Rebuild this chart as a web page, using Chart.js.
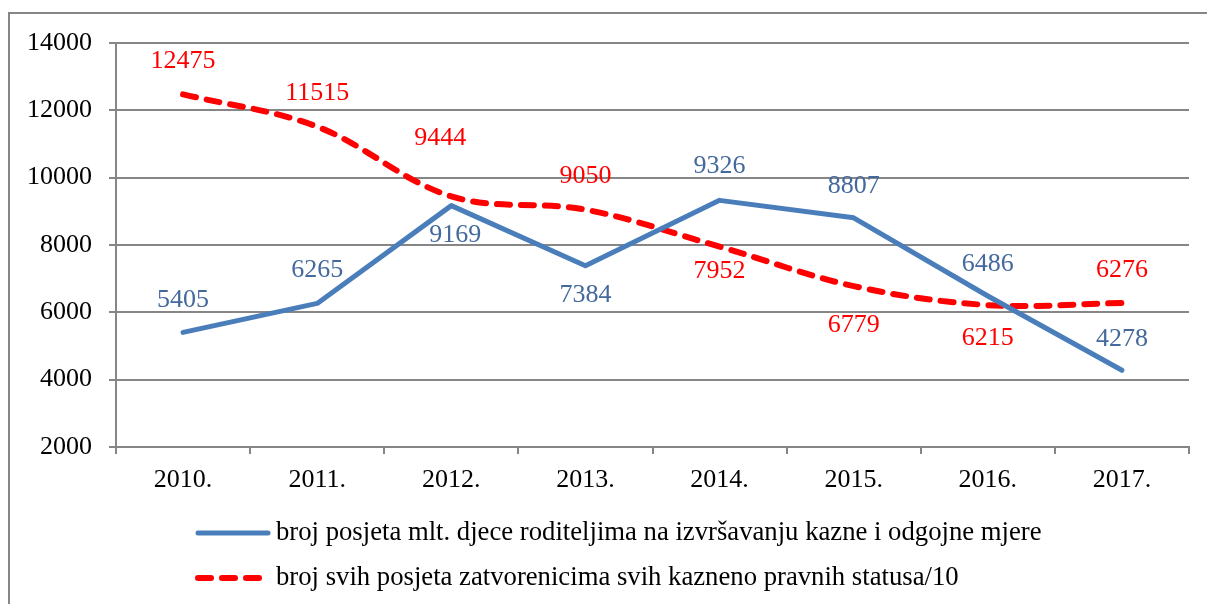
<!DOCTYPE html>
<html>
<head>
<meta charset="utf-8">
<script src="https://cdn.jsdelivr.net/npm/chart.js@4/dist/chart.umd.min.js"></script>
<style>
  html, body { margin: 0; padding: 0; background: #fff; }
  #wrap { width: 1207px; height: 604px; position: relative; }
</style>
</head>
<body>
<div id="wrap"><canvas id="c" width="1207" height="604"></canvas></div>
<script>
// ---- data ----
const categories = ['2010.', '2011.', '2012.', '2013.', '2014.', '2015.', '2016.', '2017.'];
const childVisits = [5405, 6265, 9169, 7384, 9326, 8807, 6486, 4278];
const allVisitsDiv10 = [12475, 11515, 9444, 9050, 7952, 6779, 6215, 6276];
const seriesLabels = [
  'broj posjeta mlt. djece roditeljima na izvršavanju kazne i odgojne mjere',
  'broj svih posjeta zatvorenicima svih kazneno pravnih statusa/10'
];
const yTicks = [2000, 4000, 6000, 8000, 10000, 12000, 14000];

// ---- styles ----
const FONT = '"Liberation Serif", "Times New Roman", serif';
const FS = 26;
const BLUE = '#4A7EBB';
const BLUE_TEXT = '#44699C';
const RED = '#FF0000';
// label offsets (px) relative to point: [dx, dy]
const labelOffsets = [
  [[0,-32],[0,-33],[4,30],[0,29],[0,-34],[0,-32],[0,-32],[0,-31]],
  [[0,-33],[0,-33],[-11,-58],[0,-33],[0,25],[0,39],[0,33],[0,-33]]
];

const framePlugin = {
  id: 'frame',
  beforeDraw(chart) {
    const ctx = chart.ctx;
    ctx.save();
    ctx.fillStyle = '#fff';
    ctx.fillRect(0, 0, chart.width, chart.height);
    ctx.strokeStyle = '#868686';
    ctx.lineWidth = 2;
    ctx.strokeRect(9, 13, 1400, 800);
    ctx.restore();
  }
};

const dataLabelPlugin = {
  id: 'dataLabels',
  afterDatasetsDraw(chart) {
    const ctx = chart.ctx;
    ctx.save();
    ctx.font = FS + 'px ' + FONT;
    ctx.textAlign = 'center';
    ctx.textBaseline = 'middle';
    chart.data.datasets.forEach((ds, di) => {
      const meta = chart.getDatasetMeta(di);
      ctx.fillStyle = di === 0 ? BLUE_TEXT : RED;
      meta.data.forEach((pt, i) => {
        const off = labelOffsets[di][i];
        ctx.fillText(String(ds.data[i]), pt.x + off[0], pt.y + off[1]);
      });
    });
    ctx.restore();
  }
};

const legendPlugin = {
  id: 'customLegend',
  afterDraw(chart) {
    const ctx = chart.ctx;
    ctx.save();
    const x0 = 198, x1 = 268, tx = 276;
    const ys = [533, 578];
    chart.data.datasets.forEach((ds, di) => {
      const y = ys[di];
      ctx.beginPath();
      ctx.lineCap = 'round';
      ctx.strokeStyle = ds.borderColor;
      ctx.lineWidth = ds.borderWidth;
      ctx.setLineDash(ds.borderDash || []);
      ctx.moveTo(x0, y);
      ctx.lineTo(x1, y);
      ctx.stroke();
      ctx.setLineDash([]);
      ctx.fillStyle = '#000';
      ctx.font = '26.7px ' + FONT;
      ctx.textAlign = 'left';
      ctx.textBaseline = 'middle';
      ctx.fillText(ds.label, tx, y);
    });
    ctx.restore();
  }
};

new Chart(document.getElementById('c'), {
  type: 'line',
  data: {
    labels: categories,
    datasets: [
      {
        label: seriesLabels[0],
        data: childVisits,
        borderColor: BLUE,
        backgroundColor: BLUE,
        borderWidth: 5,
        pointRadius: 0,
        tension: 0,
        borderCapStyle: 'round',
        borderJoinStyle: 'round'
      },
      {
        label: seriesLabels[1],
        data: allVisitsDiv10,
        borderColor: RED,
        backgroundColor: RED,
        borderWidth: 6,
        borderDash: [13, 11],
        borderCapStyle: 'round',
        pointRadius: 0,
        tension: 0.35
      }
    ]
  },
  options: {
    responsive: false,
    animation: false,
    devicePixelRatio: 1,
    layout: { padding: { left: 0, right: 18, top: 43, bottom: 0 } },
    plugins: {
      legend: { display: false },
      tooltip: { enabled: false }
    },
    scales: {
      x: {
        offset: true,
        grid: { display: true, drawOnChartArea: false, drawTicks: true, tickLength: 7, offset: true, color: '#868686', lineWidth: 2 },
        border: { display: true, color: '#868686', width: 2 },
        ticks: { color: '#000', font: { family: FONT, size: FS }, padding: 11, maxRotation: 0 },
        afterFit(s) { s.height = 157; }
      },
      y: {
        min: 2000,
        max: 14000,
        afterBuildTicks(s) { s.ticks = yTicks.map(v => ({ value: v })); },
        grid: { color: '#868686', lineWidth: 2, tickLength: 7, drawTicks: true },
        border: { display: true, color: '#868686', width: 2 },
        ticks: { color: '#000', font: { family: FONT, size: FS }, padding: 17, callback: v => String(v) },
        afterFit(s) { s.width = 116; }
      }
    }
  },
  plugins: [framePlugin, dataLabelPlugin, legendPlugin]
});
</script>
</body>
</html>
